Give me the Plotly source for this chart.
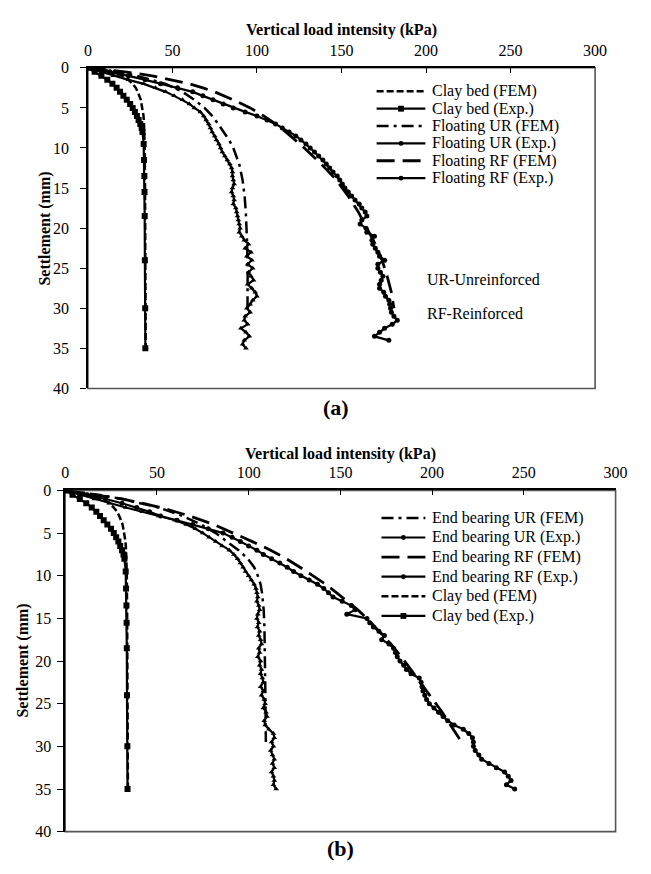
import plotly.graph_objects as go

W, H = 651, 874
FONT = "Liberation Serif, Times New Roman, Times, serif"

# ---------------- (a) floating columns ----------------
clay_exp_s = [0, 0.5, 1, 1.5, 2, 2.5, 3, 3.5, 4, 4.5, 5, 5.5, 6, 6.5, 7, 7.5, 8,
              9.5, 11.5, 13.5, 15.5, 18.5, 24, 30, 35]
clay_exp_q = [0, 4, 8, 11.5, 14.5, 17, 19, 21, 23, 25, 26.5, 27.8, 29, 30, 31, 31.8, 32.3,
              33, 33.2, 33.4, 33.5, 33.6, 33.7, 33.9, 34]

clay_fem_s = [0, 0.25, 0.5, 0.75, 1, 1.5, 2, 2.5, 3, 4, 5, 6, 7, 8, 10, 15, 20, 25, 30, 35]
clay_fem_q = [0, 8, 13, 17, 20, 24, 26.5, 28.3, 29.5, 31.3, 32.3, 32.9, 33.2, 33.4, 33.6,
              33.8, 33.9, 34, 34.1, 34.2]

fl_ur_exp_s = [0, 0.5, 1, 1.5, 2, 2.5, 3, 3.5, 4, 4.5, 5, 5.5, 6, 6.5, 7, 7.5, 8, 8.5, 9, 9.5,
               10, 10.5, 11, 11.5, 12, 12.5, 13, 13.5, 14, 14.5, 15, 15.5, 16, 16.5, 17, 17.5,
               18, 18.5, 19, 19.5, 20, 20.5, 21, 21.5, 22, 22.5, 23, 23.5, 24, 24.5, 25, 25.5,
               26, 26.5, 27, 27.5, 28, 28.5, 29, 29.5, 30, 30.5, 31, 31.5, 32, 32.5, 33, 33.5,
               34, 34.5, 35]
fl_ur_exp_q = [0, 8, 15, 24, 33, 40, 46, 51, 56, 60, 63, 66.5, 68.5, 70, 71.5, 72.5, 73.5, 75,
               76, 77.5, 78.5, 79.5, 81, 82.5, 84, 85, 85.5, 85.5, 86, 86.5, 85.5, 85, 86, 86.5,
               86, 87.5, 88, 88.5, 89, 89.5, 90, 89.5, 91, 92.5, 95, 93, 96.5, 94, 97, 94.5,
               97.5, 95, 96.5, 98, 94.5, 97, 99, 100, 97.5, 96, 94, 96, 93, 92.5, 94.5, 90.5,
               93.5, 95.5, 92.5, 91.5, 93.5]

fl_ur_fem_s = [0, 0.5, 1, 1.5, 2, 3, 4, 5, 6, 7, 8, 9, 10, 12, 14, 16, 18, 20, 22, 25, 28, 30]
fl_ur_fem_q = [0, 17, 29, 38, 46, 56, 63, 69, 73.5, 77, 80.5, 83.5, 86, 89.5, 91.5, 92.7, 93.4,
               93.9, 94.2, 94.5, 94.5, 94.4]

fl_rf_exp_s = [0, 0.5, 1, 1.5, 2, 2.5, 3, 3.5, 4, 4.5, 5, 5.5, 6, 6.5, 7, 7.5, 8, 8.5, 9, 9.5,
               10, 10.5, 11, 11.5, 12, 12.5, 13, 13.5, 14, 14.5, 15, 15.5, 16, 16.5, 17, 17.5,
               18, 18.5, 19, 19.5, 20, 20.5, 21, 21.5, 22, 22.5, 23, 23.5, 24, 24.5, 25, 25.5,
               26, 26.5, 27, 27.5, 28, 28.5, 29, 29.5, 30, 30.5, 31, 31.5, 32, 32.5, 33, 33.5,
               34]
fl_rf_exp_q = [0, 13, 24, 34, 43, 53, 62, 68, 74, 80, 86, 93, 100, 106, 111, 115, 119, 123,
               126, 129, 131.5, 134, 136.5, 139, 141, 143, 145, 147.5, 149, 150.5, 152, 154,
               156, 158, 160.5, 162, 164, 165, 162, 161, 164.5, 165, 169.5, 168, 168.5, 170,
               171.5, 172.5, 175.5, 171.5, 171.5, 173, 174.5, 173.5, 172.5, 172.5, 175, 176,
               178, 178.5, 179, 179.5, 181, 183, 180, 175.5, 172.5, 169.5, 178]

fl_rf_fem_s = [0, 0.5, 1, 1.5, 2, 2.5, 3, 4, 5, 6, 7, 8, 10, 12, 14, 16, 18, 20, 22, 24, 26,
               28, 30]
fl_rf_fem_q = [0, 22, 38, 50, 60, 68, 75, 86, 96, 104, 111, 117, 128, 138, 147, 154, 160, 165,
               170, 174, 177, 179.5, 181]

# ---------------- (b) end bearing columns ----------------
eb_ur_exp_s = fl_ur_exp_s
eb_ur_exp_q = [0, 8, 16, 24, 33, 42, 51, 60, 66, 71, 75, 78.5, 82, 85.5, 89.5, 92, 94, 95.5,
               97, 98.3, 100, 101.5, 103, 104, 104.5, 105, 104.5, 105.5, 106, 105, 104.5,
               105.5, 104.8, 106, 105.5, 106.5, 107, 105.5, 106, 105, 106.5, 106, 107, 106.5,
               107.5, 108, 106.5, 108, 107, 108.5, 109, 108, 109.5, 110, 108.5, 109, 111,
               113.5, 114, 112.5, 113.5, 112, 113, 114, 113, 114, 112.5, 113.5, 114, 113.5, 115]

eb_ur_fem_s = [0, 0.5, 1, 1.5, 2, 3, 4, 5, 6, 7, 8, 9, 10, 11, 12, 14, 16, 18, 20, 22, 25, 28,
               29.5]
eb_ur_fem_q = [0, 18, 31, 42, 51, 64, 74, 82, 88.5, 94.5, 99.5, 103, 105, 106.5, 107.3, 108.2,
               108.6, 108.8, 108.9, 109, 109.2, 109.3, 109.4]

eb_rf_exp_s = fl_ur_exp_s
eb_rf_exp_q = [0, 12, 22, 31, 39, 46, 52, 61, 69.5, 78, 86, 91, 95.5, 100, 104.5, 108, 112.5,
               117, 121, 124.5, 128.5, 133, 137.5, 141, 143.5, 146, 151, 156, 158, 153.5,
               164.5, 166, 168, 171, 174, 172.5, 176.5, 179, 180, 181, 182.5, 184.5, 186,
               188.5, 193, 194, 194.5, 195, 196, 197, 198.5, 201, 203.5, 206, 208.5, 212, 217,
               220, 222, 222.5, 222.5, 223.5, 225.5, 227, 231, 235, 239.5, 241.5, 243, 240.5,
               245]

eb_rf_fem_s = [0, 0.5, 1, 1.5, 2, 2.5, 3, 4, 5, 6, 7, 8, 9, 10, 11, 12, 13, 14, 15, 16, 17,
               18, 20, 22, 24, 26, 28, 29.3]
eb_rf_fem_q = [0, 17, 31, 42, 52, 60, 68, 81, 92, 102, 112, 120.5, 128, 135, 142, 148, 154,
               159.5, 164.5, 169, 173.5, 177.5, 185, 192, 199, 205.5, 211.5, 215.5]

# axis ticks
x_ticks = [0, 50, 100, 150, 200, 250, 300]
y_ticks = [0, 5, 10, 15, 20, 25, 30, 35, 40]

# line styles
DASH_CLAY = "7px,3px"
DASH_UR = "12px,5px,3px,5px"
DASH_RF = "18px,8px"

STYLES = {
    "clay_fem": dict(line=dict(color="black", width=2.5, dash=DASH_CLAY), mode="lines"),
    "clay_exp": dict(line=dict(color="black", width=2.2), mode="lines+markers",
                     marker=dict(symbol="square", size=6, color="black")),
    "ur_fem": dict(line=dict(color="black", width=2.5, dash=DASH_UR), mode="lines"),
    "ur_exp": dict(line=dict(color="black", width=2.2), mode="lines+markers",
                   marker=dict(symbol="triangle-up", size=5, color="black")),
    "rf_fem": dict(line=dict(color="black", width=2.8, dash=DASH_RF), mode="lines"),
    "rf_exp": dict(line=dict(color="black", width=2.2), mode="lines+markers",
                   marker=dict(symbol="circle", size=5, color="black")),
}


def px(x):
    return x / W


def py(y):
    return 1 - y / H


fig = go.Figure()

series_a = [
    ("clay_fem", clay_fem_q, clay_fem_s),
    ("ur_fem", fl_ur_fem_q, fl_ur_fem_s),
    ("rf_fem", fl_rf_fem_q, fl_rf_fem_s),
    ("clay_exp", clay_exp_q, clay_exp_s),
    ("ur_exp", fl_ur_exp_q, fl_ur_exp_s),
    ("rf_exp", fl_rf_exp_q, fl_rf_exp_s),
]
series_b = [
    ("clay_fem", clay_fem_q, clay_fem_s),
    ("ur_fem", eb_ur_fem_q, eb_ur_fem_s),
    ("rf_fem", eb_rf_fem_q, eb_rf_fem_s),
    ("clay_exp", clay_exp_q, clay_exp_s),
    ("ur_exp", eb_ur_exp_q, eb_ur_exp_s),
    ("rf_exp", eb_rf_exp_q, eb_rf_exp_s),
]
for key, q, s in series_a:
    fig.add_trace(go.Scatter(x=q, y=s, xaxis="x", yaxis="y", showlegend=False,
                             hoverinfo="skip", **STYLES[key]))
for key, q, s in series_b:
    fig.add_trace(go.Scatter(x=q, y=s, xaxis="x2", yaxis="y2", showlegend=False,
                             hoverinfo="skip", **STYLES[key]))

# plot frames in pixel units: left, right, top, bottom
box_a = (86, 606, 61, 388)
box_b = (62.7, 627, 492, 840)

axis_font = dict(family=FONT, size=16, color="black")


def xaxis(box, anchor):
    return dict(domain=[px(box[0]), px(box[1])], range=[0, 300], side="top", anchor=anchor,
                tickvals=x_ticks, ticks="inside", ticklen=5, tickcolor="black",
                showline=True, linecolor="black", linewidth=1.5, showgrid=False,
                zeroline=False, tickfont=axis_font, ticklabelstandoff=4, fixedrange=True)


def yaxis(box, anchor, standoff):
    return dict(domain=[py(box[3]), py(box[2])], range=[40, 0], anchor=anchor,
                tickvals=y_ticks, ticks="outside", ticklen=6, tickcolor="black",
                showline=True, linecolor="black", linewidth=1.5, showgrid=False,
                zeroline=False, tickfont=axis_font, ticklabelstandoff=standoff,
                fixedrange=True)


shapes = []
for b in (box_a, box_b):
    shapes.append(dict(type="rect", xref="paper", yref="paper", x0=px(b[0]), x1=px(b[1]),
                       y0=py(b[3]), y1=py(b[2]), line=dict(color="#555555", width=1.6),
                       layer="below"))

annotations = []

# legends
legend_a = [("clay_fem", "Clay bed (FEM)"), ("clay_exp", "Clay bed (Exp.)"),
            ("ur_fem", "Floating UR (FEM)"), ("ur_exp", "Floating UR (Exp.)"),
            ("rf_fem", "Floating RF (FEM)"), ("rf_exp", "Floating RF (Exp.)")]
legend_b = [("ur_fem", "End bearing UR (FEM)"), ("ur_exp", "End bearing UR (Exp.)"),
            ("rf_fem", "End bearing RF (FEM)"), ("rf_exp", "End bearing RF (Exp.)"),
            ("clay_fem", "Clay bed (FEM)"), ("clay_exp", "Clay bed (Exp.)")]


def draw_legend(entries, x0, x1, y_first, step):
    for i, (key, label) in enumerate(entries):
        yy = y_first + i * step
        st = STYLES[key]
        shapes.append(dict(type="line", xref="paper", yref="paper", x0=px(x0), x1=px(x1),
                           y0=py(yy), y1=py(yy),
                           line=dict(color="black", width=st["line"]["width"],
                                     dash=st["line"].get("dash", "solid"))))
        if "marker" in st:
            r = st["marker"]["size"] / 2
            cx = (x0 + x1) / 2
            shapes.append(dict(type="circle" if key != "clay_exp" else "rect",
                               xref="paper", yref="paper",
                               x0=px(cx - r), x1=px(cx + r), y0=py(yy + r), y1=py(yy - r),
                               fillcolor="black", line=dict(color="black", width=0)))
        annotations.append(dict(text=label, x=px(x1 + 5), y=py(yy), xref="paper",
                                yref="paper", xanchor="left", yanchor="middle",
                                showarrow=False, font=dict(family=FONT, size=16,
                                                           color="black")))


draw_legend(legend_a, 382, 432, 85, 17.7)
draw_legend(legend_b, 387, 432, 520, 20.0)

text_items = [
    ("UR-Unreinforced", 432, 277),
    ("RF-Reinforced", 432, 312),
]
for t, x, y in text_items:
    annotations.append(dict(text=t, x=px(x), y=py(y), xref="paper", yref="paper",
                            xanchor="left", yanchor="middle", showarrow=False,
                            font=dict(family=FONT, size=16, color="black")))

titles = [
    ("<b>Vertical load intensity (kPa)</b>", 346, 22, 0),
    ("<b>Vertical load intensity (kPa)</b>", 345, 455, 0),
    ("<b>Settlement (mm)</b>", 42, 225, -90),
    ("<b>Settlement (mm)</b>", 20, 666, -90),
]
for t, x, y, ang in titles:
    annotations.append(dict(text=t, x=px(x), y=py(y), xref="paper", yref="paper",
                            xanchor="center", yanchor="middle", textangle=ang,
                            showarrow=False, font=dict(family=FONT, size=16, color="black")))

for t, x, y in [("<b>(a)</b>", 340, 407), ("<b>(b)</b>", 345, 857)]:
    annotations.append(dict(text=t, x=px(x), y=py(y), xref="paper", yref="paper",
                            xanchor="center", yanchor="middle", showarrow=False,
                            font=dict(family=FONT, size=22, color="black")))

fig.update_layout(
    width=W, height=H, margin=dict(l=0, r=0, t=0, b=0),
    paper_bgcolor="white", plot_bgcolor="white",
    xaxis=xaxis(box_a, "y"), yaxis=yaxis(box_a, "x", 8),
    xaxis2=xaxis(box_b, "y2"), yaxis2=yaxis(box_b, "x2", 3),
    shapes=shapes, annotations=annotations, showlegend=False,
    font=dict(family=FONT, color="black"),
)

fig.write_html("out.html")
